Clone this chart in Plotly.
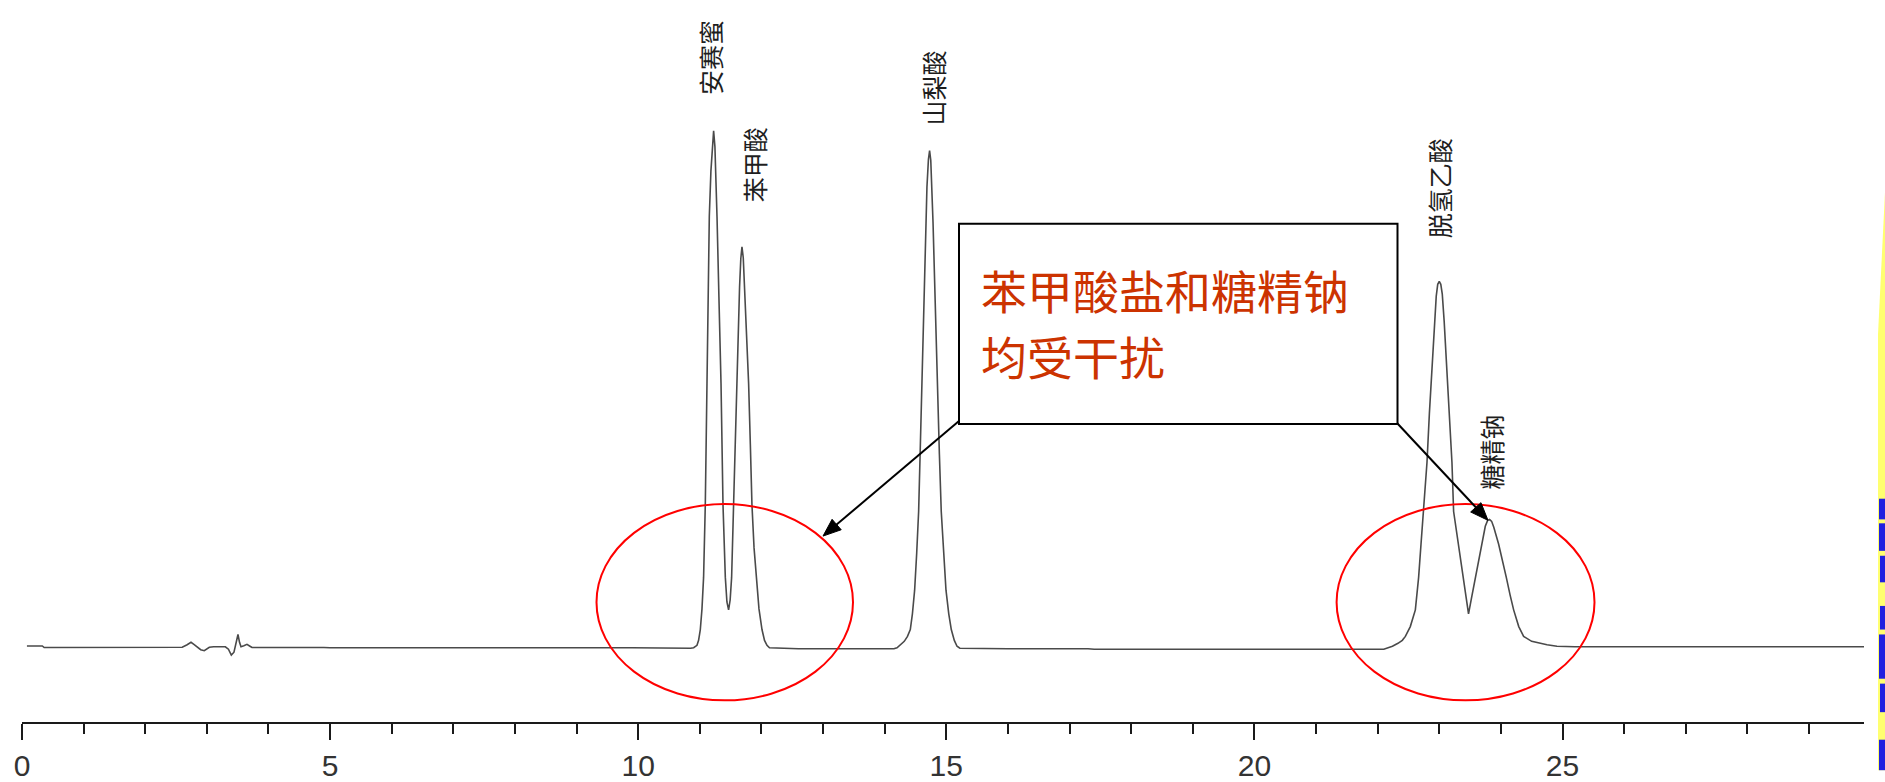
import math
import plotly.graph_objects as go

# ---- data (time in min, signal in arbitrary units) ----
time_min = [
    0.08, 0.33, 0.36, 2.49, 2.60, 2.68, 2.743, 2.80, 2.845, 2.90, 2.958, 3.00, 3.04, 3.11,
    3.30, 3.35, 3.397, 3.44, 3.47, 3.505, 3.53, 3.554, 3.60, 3.651, 3.70, 3.733, 4.90,
    5.00, 9.90, 10.50, 10.85,
    10.90, 10.93, 10.954, 10.98, 11.008, 11.035, 11.061, 11.089, 11.113, 11.134, 11.154,
    11.18, 11.205, 11.224, 11.245, 11.262, 11.279, 11.31, 11.344, 11.376, 11.395, 11.414,
    11.44, 11.467, 11.492, 11.516, 11.548, 11.572, 11.595, 11.62, 11.645, 11.665, 11.684,
    11.705, 11.73, 11.76, 11.792, 11.82, 11.846, 11.88, 11.917, 11.96, 12.009, 12.05,
    12.09, 12.13, 12.60, 14.10,
    14.15, 14.20, 14.226, 14.27, 14.318, 14.37, 14.416, 14.45, 14.486, 14.52, 14.551,
    14.575, 14.60, 14.62, 14.643, 14.665, 14.686, 14.71, 14.729, 14.748, 14.767, 14.785,
    14.805, 14.83, 14.858, 14.888, 14.918, 14.955, 14.995, 15.04, 15.081, 15.13, 15.174,
    15.22, 16.00, 17.30, 17.40,
    22.10, 22.24, 22.33, 22.40, 22.45, 22.53, 22.612, 22.665, 22.704, 22.733, 22.77,
    22.801, 22.84, 22.882, 22.92, 22.951, 22.975, 23.00, 23.025, 23.049, 23.08, 23.115,
    23.16, 23.206, 23.233, 23.313, 23.394, 23.44, 23.475, 23.52, 23.585, 23.635, 23.682,
    23.747, 23.785, 23.817, 23.85, 23.885, 23.963, 24.03, 24.088, 24.15, 24.207, 24.29,
    24.369, 24.50, 24.62, 24.749, 24.91, 25.20, 29.90,
]
signal = [
    0.3, 0.3, -1.3, -1.3, -1.0, 1.5, 4.0, 1.5, -1.0, -3.5, -4.5, -3.0, -1.0, -0.5,
    -0.5, -3.0, -9.0, -6.0, 3.0, 12.0, 4.0, -0.5, 0.5, 2.0, 0.0, -1.3, -1.3,
    -1.5, -1.5, -2.0, -2.0,
    -1.5, -0.5, 1, 6, 17, 38, 70, 144, 267, 355, 437,
    483, 512, 524, 508, 478, 437, 355, 267, 144, 100, 70,
    45, 37, 47, 70, 144, 205, 267, 320, 365, 394, 406,
    395, 360, 315, 267, 205, 144, 100, 70, 38, 17, 6,
    1, -1.5, -2.5, -2.5,
    -2.5, -1.5, 0, 2, 5, 10, 17, 33, 57, 95, 137,
    195, 257, 315, 384, 430, 467, 495, 504, 494, 467, 430,
    384, 320, 257, 195, 137, 92, 57, 33, 17, 6, 0,
    -2, -2.5, -2.5, -3,
    -3, 0, 3, 6, 10, 20, 37, 70, 104, 132, 160,
    187, 237, 287, 330, 356, 368, 371, 368, 358, 330, 287,
    237, 187, 137, 104, 70, 48, 33, 48, 70, 88, 104,
    122, 128, 129, 127, 121, 104, 87, 70, 52, 37, 20,
    10, 5, 3, 1.5, 0, -0.5, -0.5,
]

peak_names = ["安赛蜜", "苯甲酸", "山梨酸", "脱氢乙酸", "糖精钠"]
callout_lines = ["苯甲酸盐和糖精钠", "均受干扰"]
tick_values = [0, 5, 10, 15, 20, 25]
tick_labels = ["0", "5", "10", "15", "20", "25"]

# ---- layout geometry (reference pixel frame) ----
W, H = 1885, 782
ML, MR, MT, MB = 22, 21, 0, 48
PXU = 61.62           # px per minute
BASE_PY = 657         # pixel row of zero signal
XMAX = (W - ML - MR) / PXU
YMIN = BASE_PY - (H - MB)   # -77
YMAX = BASE_PY


def tx(px):
    return (px - ML) / PXU


def hy(py):
    return BASE_PY - py


def paper_x(px):
    return (px - ML) / (W - ML - MR)


def paper_y(py):
    return (H - MB - py) / (H - MB - MT)


fig = go.Figure()
fig.add_trace(go.Scatter(
    x=time_min, y=signal, mode="lines",
    line=dict(color="#4a4a4a", width=1.6),
    hoverinfo="skip", showlegend=False,
))

# peak labels (rotated)
label_px = [(709.5, 58.5), (754, 168), (933, 90), (1438.5, 192), (1491, 460)]
annotations = []
for name, (px, py) in zip(peak_names, label_px):
    annotations.append(dict(
        x=tx(px), y=hy(py), xref="x", yref="y", text=name, showarrow=False,
        textangle=-90, xanchor="center", yanchor="middle",
        font=dict(family="Noto Sans CJK SC", size=25, color="#1e1e1e"),
    ))

# callout text, one annotation per line
for line, py in zip(callout_lines, [294, 361]):
    annotations.append(dict(
        x=tx(980), y=hy(py), xref="x", yref="y", text=line, showarrow=False,
        xanchor="left", yanchor="middle", align="left", borderpad=0,
        font=dict(family="Noto Sans CJK SC", size=46, color="#cc3300"),
    ))

shapes = [
    # callout box
    dict(type="rect", xref="x", yref="y", x0=tx(959), x1=tx(1397.5),
         y0=hy(431), y1=hy(227.5), line=dict(color="#000000", width=2),
         fillcolor="white", layer="above"),
    # red ellipses
    dict(type="circle", xref="x", yref="y", x0=tx(596.5), x1=tx(853),
         y0=hy(712), y1=hy(512.5), line=dict(color="#ff0000", width=2)),
    dict(type="circle", xref="x", yref="y", x0=tx(1336.6), x1=tx(1594.5),
         y0=hy(712), y1=hy(512.5), line=dict(color="#ff0000", width=2)),
    # yellow strip at the right edge
    dict(type="path", xref="paper", yref="paper",
         path=(f"M {paper_x(1885.5)} {paper_y(185)} L {paper_x(1878)} {paper_y(340)} "
               f"L {paper_x(1878)} {paper_y(783)} L {paper_x(1885.5)} {paper_y(783)} Z"),
         fillcolor="#ffff70", line=dict(width=0), layer="above"),
]

# arrows (line + filled head) from the callout box corners to the circled regions
HEAD_LEN, HEAD_HALF = 18, 7
for (t_x, t_y, h_x, h_y) in [(959, 428, 823, 545), (1397, 430, 1488, 529)]:
    dx, dy = h_x - t_x, h_y - t_y
    n = math.hypot(dx, dy)
    ux, uy = dx / n, dy / n
    bx, by = h_x - HEAD_LEN * ux, h_y - HEAD_LEN * uy
    px_, py_ = -uy, ux
    w1 = (bx + HEAD_HALF * px_, by + HEAD_HALF * py_)
    w2 = (bx - HEAD_HALF * px_, by - HEAD_HALF * py_)
    shapes.append(dict(type="line", xref="x", yref="y",
                       x0=tx(t_x), y0=hy(t_y), x1=tx(bx + 2 * ux), y1=hy(by + 2 * uy),
                       line=dict(color="#000000", width=2), layer="above"))
    shapes.append(dict(type="path", xref="x", yref="y",
                       path=(f"M {tx(h_x)} {hy(h_y)} L {tx(w1[0])} {hy(w1[1])} "
                             f"L {tx(w2[0])} {hy(w2[1])} Z"),
                       fillcolor="#000000", line=dict(color="#000000", width=1),
                       layer="above"))

for (y0, y1, x0) in [(507, 528, 1879), (532, 560, 1879), (565, 592, 1880),
                     (616, 640, 1880), (645, 690, 1879), (695, 724, 1880), (752, 783, 1879)]:
    shapes.append(dict(type="rect", xref="paper", yref="paper",
                       x0=paper_x(x0), x1=paper_x(1885.5), y0=paper_y(y1), y1=paper_y(y0),
                       fillcolor="#2020e0", line=dict(width=0), layer="above"))

fig.update_layout(
    width=W, height=H, autosize=False,
    margin=dict(l=ML, r=MR, t=MT, b=MB, pad=0),
    paper_bgcolor="white", plot_bgcolor="white",
    showlegend=False,
    annotations=annotations, shapes=shapes,
    xaxis=dict(
        range=[0, XMAX], showgrid=False, zeroline=False,
        showline=True, linecolor="#1a1a1a", linewidth=2,
        ticks="outside", tickvals=tick_values, ticktext=tick_labels,
        ticklen=16, tickwidth=2, tickcolor="#1a1a1a",
        tickfont=dict(family="Liberation Sans, Arial", size=30, color="#333333"),
        minor=dict(dtick=1, tick0=0, ticks="outside", ticklen=10, tickwidth=2,
                   tickcolor="#1a1a1a", showgrid=False),
        fixedrange=True,
    ),
    yaxis=dict(range=[YMIN, YMAX], visible=False, fixedrange=True),
)

fig.write_html("out.html", config={"displayModeBar": False},
               post_script="document.body.style.margin='0px';")
